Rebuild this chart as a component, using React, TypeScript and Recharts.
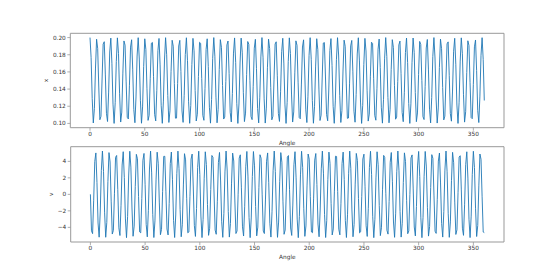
import React from 'react';
import { LineChart, Line, XAxis, YAxis, ReferenceArea } from 'recharts';

const ANGLES = [
  0,1,2,3,4,5,6,7,8,9,10,11,12,13,14,15,16,17,18,19,20,21,22,23,24,25,26,27,28,29,
  30,31,32,33,34,35,36,37,38,39,40,41,42,43,44,45,46,47,48,49,50,51,52,53,54,55,56,57,58,59,
  60,61,62,63,64,65,66,67,68,69,70,71,72,73,74,75,76,77,78,79,80,81,82,83,84,85,86,87,88,89,
  90,91,92,93,94,95,96,97,98,99,100,101,102,103,104,105,106,107,108,109,110,111,112,113,114,115,116,117,118,119,
  120,121,122,123,124,125,126,127,128,129,130,131,132,133,134,135,136,137,138,139,140,141,142,143,144,145,146,147,148,149,
  150,151,152,153,154,155,156,157,158,159,160,161,162,163,164,165,166,167,168,169,170,171,172,173,174,175,176,177,178,179,
  180,181,182,183,184,185,186,187,188,189,190,191,192,193,194,195,196,197,198,199,200,201,202,203,204,205,206,207,208,209,
  210,211,212,213,214,215,216,217,218,219,220,221,222,223,224,225,226,227,228,229,230,231,232,233,234,235,236,237,238,239,
  240,241,242,243,244,245,246,247,248,249,250,251,252,253,254,255,256,257,258,259,260,261,262,263,264,265,266,267,268,269,
  270,271,272,273,274,275,276,277,278,279,280,281,282,283,284,285,286,287,288,289,290,291,292,293,294,295,296,297,298,299,
  300,301,302,303,304,305,306,307,308,309,310,311,312,313,314,315,316,317,318,319,320,321,322,323,324,325,326,327,328,329,
  330,331,332,333,334,335,336,337,338,339,340,341,342,343,344,345,346,347,348,349,350,351,352,353,354,355,356,357,358,359,
  360,
];

const X_VALUES = [
  0.2000, 0.1768, 0.1289, 0.1005, 0.1175, 0.1645, 0.1981, 0.1875, 0.1424, 0.1043, 0.1082, 0.1505, 0.1924, 0.1952, 0.1565, 0.1118, 0.1022, 0.1365, 0.1832, 0.1994, 0.1701, 0.1224,
  0.1000, 0.1241, 0.1720, 0.1997, 0.1816, 0.1345, 0.1016, 0.1132, 0.1586, 0.1961, 0.1912, 0.1484, 0.1071, 0.1052, 0.1445, 0.1889, 0.1975, 0.1624, 0.1160, 0.1008, 0.1308, 0.1785,
  0.1999, 0.1750, 0.1270, 0.1002, 0.1192, 0.1665, 0.1986, 0.1861, 0.1404, 0.1035, 0.1094, 0.1526, 0.1934, 0.1943, 0.1544, 0.1105, 0.1029, 0.1386, 0.1848, 0.1990, 0.1682, 0.1206,
  0.1001, 0.1260, 0.1739, 0.1999, 0.1800, 0.1325, 0.1011, 0.1147, 0.1607, 0.1969, 0.1900, 0.1463, 0.1061, 0.1062, 0.1466, 0.1902, 0.1968, 0.1604, 0.1145, 0.1012, 0.1328, 0.1802,
  0.1998, 0.1731, 0.1252, 0.1001, 0.1209, 0.1685, 0.1991, 0.1846, 0.1383, 0.1028, 0.1107, 0.1547, 0.1945, 0.1933, 0.1523, 0.1092, 0.1036, 0.1406, 0.1863, 0.1986, 0.1662, 0.1189,
  0.1003, 0.1278, 0.1757, 0.2000, 0.1783, 0.1306, 0.1007, 0.1162, 0.1627, 0.1976, 0.1887, 0.1442, 0.1051, 0.1073, 0.1487, 0.1914, 0.1960, 0.1583, 0.1130, 0.1017, 0.1348, 0.1819,
  0.1996, 0.1712, 0.1234, 0.1000, 0.1226, 0.1704, 0.1994, 0.1830, 0.1363, 0.1021, 0.1120, 0.1568, 0.1954, 0.1922, 0.1502, 0.1081, 0.1044, 0.1427, 0.1877, 0.1980, 0.1642, 0.1173,
  0.1006, 0.1298, 0.1775, 0.2000, 0.1765, 0.1286, 0.1004, 0.1178, 0.1648, 0.1982, 0.1873, 0.1421, 0.1042, 0.1084, 0.1508, 0.1925, 0.1951, 0.1562, 0.1116, 0.1023, 0.1368, 0.1835,
  0.1992, 0.1693, 0.1216, 0.1000, 0.1244, 0.1723, 0.1997, 0.1814, 0.1342, 0.1016, 0.1134, 0.1589, 0.1962, 0.1910, 0.1481, 0.1069, 0.1054, 0.1448, 0.1890, 0.1974, 0.1622, 0.1158,
  0.1010, 0.1317, 0.1793, 0.1999, 0.1747, 0.1268, 0.1002, 0.1194, 0.1668, 0.1987, 0.1859, 0.1400, 0.1034, 0.1096, 0.1529, 0.1936, 0.1942, 0.1541, 0.1103, 0.1030, 0.1389, 0.1850,
  0.1988, 0.1673, 0.1199, 0.1001, 0.1262, 0.1742, 0.1999, 0.1797, 0.1323, 0.1011, 0.1149, 0.1610, 0.1970, 0.1898, 0.1460, 0.1059, 0.1063, 0.1469, 0.1903, 0.1967, 0.1601, 0.1142,
  0.1014, 0.1337, 0.1809, 0.1998, 0.1728, 0.1249, 0.1000, 0.1211, 0.1687, 0.1991, 0.1844, 0.1380, 0.1027, 0.1108, 0.1550, 0.1946, 0.1931, 0.1520, 0.1091, 0.1037, 0.1409, 0.1865,
  0.1983, 0.1653, 0.1182, 0.1003, 0.1281, 0.1760, 0.2000, 0.1780, 0.1303, 0.1007, 0.1164, 0.1630, 0.1976, 0.1885, 0.1439, 0.1049, 0.1074, 0.1490, 0.1915, 0.1959, 0.1580, 0.1128,
  0.1020, 0.1357, 0.1826, 0.1995, 0.1709, 0.1231, 0.1000, 0.1228, 0.1707, 0.1995, 0.1828, 0.1360, 0.1020, 0.1122, 0.1571, 0.1955, 0.1920, 0.1499, 0.1079, 0.1045, 0.1430, 0.1879,
  0.1978, 0.1633, 0.1166, 0.1006, 0.1300, 0.1778, 0.2000, 0.1762, 0.1284, 0.1004, 0.1180, 0.1650, 0.1982, 0.1871, 0.1418, 0.1041, 0.1085, 0.1511, 0.1927, 0.1950, 0.1560, 0.1114,
  0.1026, 0.1377, 0.1841, 0.1992, 0.1690, 0.1214, 0.1000, 0.1246, 0.1726, 0.1997, 0.1812, 0.1340, 0.1015, 0.1136, 0.1592, 0.1963, 0.1908, 0.1478, 0.1068, 0.1055, 0.1451, 0.1892,
  0.1972, 0.1615, 0.1152, 0.1010, 0.1318, 0.1793, 0.1999, 0.1746, 0.1267,
];

const V_VALUES = [
  0.00, -4.42, -4.76, -0.71, 3.99, 5.02, 1.44, -3.47, -5.19, -2.14, 2.88, 5.25, 2.79, -2.24, -5.20, -3.39, 1.54, 5.06, 3.92, -0.82, -4.81, -4.37,
  0.14, 4.49, 4.71, 0.60, -4.06, -4.99, -1.33, 3.55, 5.17, 2.03, -2.98, -5.25, -2.70, 2.34, 5.22, 3.30, -1.65, -5.08, -3.85, 0.93, 4.85, 4.31,
  -0.25, -4.55, -4.66, -0.49, 4.13, 4.96, 1.22, -3.64, -5.15, -1.93, 3.07, 5.24, 2.60, -2.43, -5.23, -3.22, 1.75, 5.11, 3.77, -1.04, -4.89, -4.25,
  0.36, 4.60, 4.61, 0.38, -4.20, -4.92, -1.11, 3.72, 5.13, 1.83, -3.15, -5.23, -2.50, 2.53, 5.24, 3.13, -1.86, -5.14, -3.69, 1.14, 4.93, 4.18,
  -0.47, -4.66, -4.56, -0.27, 4.27, 4.88, 1.01, -3.79, -5.10, -1.72, 3.24, 5.23, 2.41, -2.63, -5.24, -3.04, 1.96, 5.16, 3.61, -1.25, -4.97, -4.11,
  0.58, 4.71, 4.50, 0.16, -4.33, -4.84, -0.90, 3.87, 5.08, 1.62, -3.33, -5.21, -2.31, 2.72, 5.25, 2.95, -2.06, -5.18, -3.53, 1.36, 5.00, 4.04,
  -0.69, -4.75, -4.44, -0.05, 4.39, 4.79, 0.79, -3.94, -5.05, -1.51, 3.41, 5.20, 2.21, -2.82, -5.25, -2.86, 2.16, 5.19, 3.45, -1.47, -5.03, -3.97,
  0.81, 4.80, 4.38, -0.06, -4.45, -4.75, -0.68, 4.01, 5.02, 1.41, -3.50, -5.18, -2.11, 2.91, 5.25, 2.76, -2.26, -5.21, -3.36, 1.57, 5.06, 3.90,
  -0.91, -4.84, -4.32, 0.17, 4.51, 4.70, 0.57, -4.08, -4.98, -1.30, 3.58, 5.17, 2.00, -3.00, -5.25, -2.67, 2.36, 5.22, 3.28, -1.68, -5.09, -3.83,
  1.02, 4.89, 4.26, -0.28, -4.56, -4.65, -0.46, 4.15, 4.95, 1.19, -3.60, -5.14, -1.90, 3.09, 5.24, 2.57, -2.46, -5.23, -3.19, 1.78, 5.12, 3.75,
  -1.13, -4.92, -4.19, 0.39, 4.62, 4.59, 0.35, -4.22, -4.91, -1.08, 3.74, 5.12, 1.80, -3.18, -5.23, -2.48, 2.56, 5.24, 3.11, -1.89, -5.14, -3.67,
  1.24, 4.96, 4.12, -0.50, -4.67, -4.54, -0.24, 4.28, 4.87, 0.98, -3.81, -5.10, -1.69, 3.27, 5.22, 2.38, -2.65, -5.25, -3.02, 1.99, 5.16, 3.59,
  -1.35, -5.00, -4.05, 0.62, 4.72, 4.48, 0.13, -4.35, -4.82, -0.87, 3.89, 5.07, 1.59, -3.35, -5.21, -2.28, 2.75, 5.25, 2.92, -2.09, -5.18, -3.51,
  1.45, 5.03, 3.98, -0.72, -4.77, -4.43, -0.01, 4.41, 4.78, 0.76, -3.96, -5.04, -1.48, 3.44, 5.20, 2.18, -2.84, -5.25, -2.83, 2.19, 5.20, 3.43,
  -1.56, -5.06, -3.91, 0.83, 4.81, 4.36, -0.09, -4.47, -4.73, -0.65, 4.03, 5.01, 1.38, -3.52, -5.18, -2.08, 2.93, 5.25, 2.74, -2.29, -5.21, -3.34,
  1.66, 5.09, 3.83, -0.94, -4.86, -4.30, 0.21, 4.52, 4.68, 0.54, -4.10, -4.97, -1.27, 3.60, 5.16, 1.97, -3.03, -5.24, -2.64, 2.39, 5.22, 3.25,
  -1.75, -5.11, -3.78, 1.03, 4.89, 4.25, -0.30, -4.57, -4.64,
];

const X_TICKS = [0, 50, 100, 150, 200, 250, 300, 350];
const X_DOMAIN = [-18, 378];
const TOP_Y_TICKS = [0.1, 0.12, 0.14, 0.16, 0.18, 0.2];
const TOP_Y_DOMAIN = [0.095, 0.205];
const BOTTOM_Y_TICKS = [-4, -2, 0, 2, 4];
const BOTTOM_Y_DOMAIN = [-5.775, 5.775];

const data = ANGLES.map((a, i) => ({ angle: a, x: X_VALUES[i], v: V_VALUES[i] }));

const FONT = 'DejaVu Sans, sans-serif';
const TEXT = '#333';
const FRAME = '#999';
const LINE = '#1f77b4';

const tickStyle = { fontSize: 5.8, fill: TEXT, fontFamily: FONT };

function Panel(props: {
  height: number;
  top: number;
  xAxisHeight: number;
  yAxisWidth: number;
  dataKey: string;
  yDomain: number[];
  yTicks: number[];
  yFormat: (v: number) => string;
  yLabel: string;
  yLabelX: number;
}) {
  const { height, top, xAxisHeight, yAxisWidth, dataKey, yDomain, yTicks, yFormat, yLabel, yLabelX } = props;
  return (
    <LineChart
      width={560}
      height={height}
      data={data}
      margin={{ top, right: 56, bottom: 0, left: 0 }}
    >
      <XAxis
        dataKey="angle"
        type="number"
        domain={X_DOMAIN}
        ticks={X_TICKS}
        interval={0}
        allowDataOverflow
        height={xAxisHeight}
        tickSize={3}
        tickMargin={1.2}
        tick={tickStyle}
        axisLine={false}
        tickLine={{ stroke: FRAME, strokeWidth: 0.8 }}
        label={(p: any) => {
          const vb = p.viewBox || {};
          return (
            <text
              x={vb.x + vb.width / 2}
              y={vb.y + 15}
              dy="0.35em"
              textAnchor="middle"
              fontSize={5.8}
              fill={TEXT}
              fontFamily={FONT}
            >
              Angle
            </text>
          );
        }}
      />
      <YAxis
        type="number"
        domain={yDomain}
        ticks={yTicks}
        interval={0}
        allowDataOverflow
        width={yAxisWidth}
        tickSize={3}
        tickMargin={1.5}
        tick={tickStyle}
        tickFormatter={yFormat}
        axisLine={false}
        tickLine={{ stroke: FRAME, strokeWidth: 0.8 }}
        label={(p: any) => {
          const vb = p.viewBox || {};
          const cx = yLabelX;
          const cy = vb.y + vb.height / 2;
          return (
            <text
              x={cx}
              y={cy}
              dy="0.35em"
              textAnchor="middle"
              fontSize={5.8}
              fill={TEXT}
              fontFamily={FONT}
              transform={`rotate(-90 ${cx} ${cy})`}
            >
              {yLabel}
            </text>
          );
        }}
      />
      <Line
        type="linear"
        dataKey={dataKey}
        stroke={LINE}
        strokeWidth={0.9}
        dot={false}
        activeDot={false}
        isAnimationActive={false}
      />
      <ReferenceArea
        x1={X_DOMAIN[0]}
        x2={X_DOMAIN[1]}
        y1={yDomain[0]}
        y2={yDomain[1]}
        fill="none"
        fillOpacity={0}
        stroke={FRAME}
        strokeWidth={1}
        ifOverflow="visible"
      />
    </LineChart>
  );
}

const fmtTop = (v: number) => v.toFixed(2);
const fmtBottom = (v: number) => (v < 0 ? '\u2212' + Math.abs(v) : String(v));

export default function App() {
  return (
    <div style={{ position: 'absolute', left: 0, top: 0, width: 560, height: 272, background: '#fff', overflow: 'hidden' }}>
      <div style={{ position: 'absolute', left: 0, top: 0 }}>
        <Panel
          height={146}
          top={33.3}
          xAxisHeight={18.3}
          yAxisWidth={70.3}
          dataKey="x"
          yDomain={TOP_Y_DOMAIN}
          yTicks={TOP_Y_TICKS}
          yFormat={fmtTop}
          yLabel="x"
          yLabelX={45.7}
        />
      </div>
      <div style={{ position: 'absolute', left: 0, top: 146 }}>
        <Panel
          height={126}
          top={0.7}
          xAxisHeight={30}
          yAxisWidth={70.7}
          dataKey="v"
          yDomain={BOTTOM_Y_DOMAIN}
          yTicks={BOTTOM_Y_TICKS}
          yFormat={fmtBottom}
          yLabel="v"
          yLabelX={51}
        />
      </div>
    </div>
  );
}
